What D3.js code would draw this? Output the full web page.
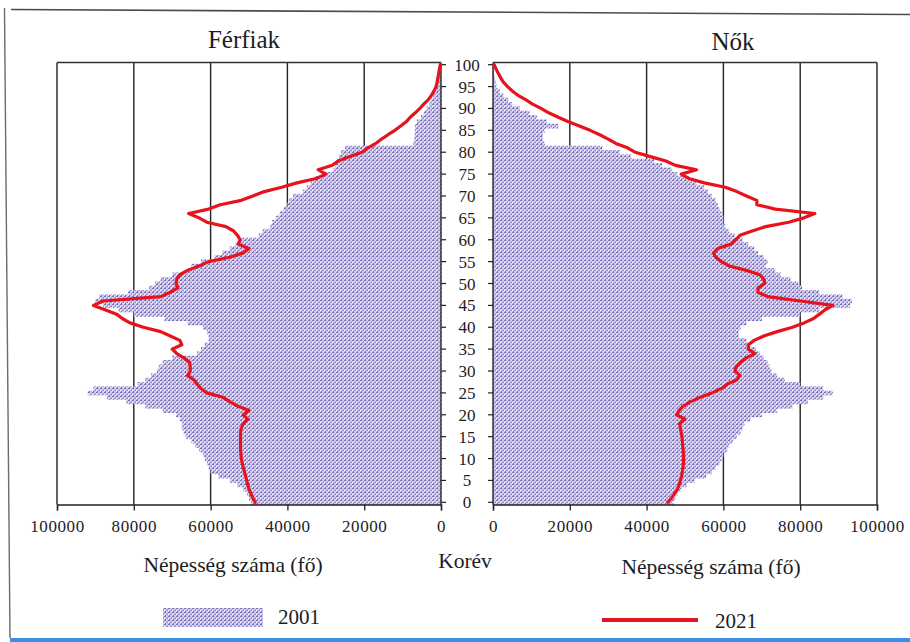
<!DOCTYPE html>
<html><head><meta charset="utf-8">
<script src="https://cdn.jsdelivr.net/npm/d3@7/dist/d3.min.js"></script>
<style>
html,body{margin:0;padding:0;background:#fff;}
svg{display:block;}
text{font-family:"Liberation Serif","DejaVu Serif",serif;fill:#1c1c24;}
</style></head>
<body>
<svg id="chart" width="910" height="642"></svg>
<script>
const ages = d3.range(0, 101);
const ageTicks = d3.range(0, 101, 5);
const valueTicks = [0, 20000, 40000, 60000, 80000, 100000];
const titleMen = "Férfiak", titleWomen = "Nők";
const axisTitle = "Népesség száma (fő)", ageTitle = "Korév";
const seriesNames = ["2001", "2021"];

const male2001 = [49500,50000,50500,51500,53000,55000,58000,60000,60500,61000,
 61500,62000,63000,64000,65000,66500,67000,67500,67500,68000,
 69000,72500,77000,82000,87000,92000,90500,79000,77000,75500,
 74000,73500,72500,70000,63500,62500,61500,60500,60500,61000,
 62000,66000,72000,80000,84000,88000,90000,89000,81500,76000,
 74500,73000,70000,66000,65000,62500,59000,57000,55000,53500,
 52000,47500,46500,44500,44000,43000,42000,41000,40000,39500,
 38500,36000,35000,34000,33000,30500,28000,27500,27000,26500,
 26000,25000,7200,7000,6900,6800,6800,6300,5200,4500,
 3800,3000,2500,2000,1400,1100,800,600,400,200,100];

const female2001 = [47000,47500,48000,49000,50500,52500,55500,57000,58000,59000,
 59500,60000,61000,61500,62500,63500,64500,65000,65500,67000,
 70000,74000,78000,82000,86000,88500,86000,80000,76000,74000,
 72500,72000,71500,70500,69500,68500,67000,66000,64000,64000,
 64500,66000,70000,80000,85000,93000,93500,91000,85000,80500,
 79500,77500,75000,73500,71000,71500,70500,69000,68000,66500,
 65000,63000,61500,60500,60000,60000,59500,59000,58500,58000,
 57000,56000,55000,53000,51000,48000,46500,44000,42000,36000,
 33000,28500,13500,13000,13000,13500,17000,14000,11500,9500,
 7000,5000,4000,2700,1800,1000,700,500,300,200,100];

const male2021 = [48400,49000,49500,50000,50300,50600,50900,51200,51500,51800,
 52000,52100,52200,52200,52200,52200,52200,52000,51500,50300,
 51500,50000,53000,55000,56800,61000,62500,63500,64400,66000,
 65300,65300,65500,67000,68800,70000,67500,68000,70500,73000,
 77500,81000,83000,84500,87500,90500,88000,73000,70500,68500,
 69000,68800,68000,66000,63000,60500,55000,51500,50000,52800,
 52300,53000,54000,56000,61000,63000,65700,60500,57500,52000,
 49000,46000,41500,37500,32500,30000,32000,28300,26800,23700,
 20600,19000,17000,15500,13800,12000,10500,9000,8000,6700,
 5500,4500,3300,2500,1800,1300,1000,800,600,400,200];

const female2021 = [45500,46500,47300,48000,48500,48800,49100,49300,49500,49600,
 49600,49600,49500,49400,49300,49200,49000,48800,48600,50000,
 47800,48500,49500,51500,54000,57000,59500,61000,63500,64300,
 63000,63300,64500,66000,68200,66500,66500,68000,70500,74000,
 78000,81000,83500,85000,86500,88500,80000,71500,69000,69000,
 70800,70500,69500,66000,61500,59500,58000,57400,58500,62000,
 63200,64300,67500,71000,77000,81000,83800,73500,68700,68700,
 66000,63500,60500,55000,51000,49000,53000,47500,45000,41000,
 37000,35000,32000,30000,27800,25300,22500,19500,17000,14500,
 12500,10300,8500,6500,5000,3800,2700,2000,1400,800,300];

const svg = d3.select("#chart");

// page frame (scan edges)
svg.append("line").attr("x1",11).attr("y1",9.5).attr("x2",910).attr("y2",14.5)
  .attr("stroke","#4a4a50").attr("stroke-width",1.6);
svg.append("line").attr("x1",4.5).attr("y1",8).attr("x2",10).attr("y2",638)
  .attr("stroke","#6a6a78").attr("stroke-width",1.4);
svg.append("rect").attr("x",10).attr("y",638).attr("width",900).attr("height",4).attr("fill","#3b8fe2");

// pattern for 2001 bars (scanned dotted texture)
const defs = svg.append("defs");
const pat = defs.append("pattern").attr("id","dots").attr("patternUnits","userSpaceOnUse")
  .attr("width",4).attr("height",4);
pat.append("rect").attr("width",4).attr("height",4).attr("fill","#d2d0ec");
pat.append("rect").attr("x",0).attr("y",0).attr("width",2).attr("height",1).attr("fill","#7070bc");
pat.append("rect").attr("x",2).attr("y",2).attr("width",2).attr("height",1).attr("fill","#a98ccb");
pat.append("rect").attr("x",1).attr("y",3).attr("width",1).attr("height",1).attr("fill","#6a6cb4");
pat.append("rect").attr("x",3).attr("y",1).attr("width",1).attr("height",1).attr("fill","#9aa0d4");
pat.append("rect").attr("x",0).attr("y",2).attr("width",1).attr("height",1).attr("fill","#eef0fa");

const yTop = 62.5, yBot = 504.5;
const y = d3.scaleBand().domain(ages).range([yBot, yTop]).paddingInner(0).paddingOuter(0);
const bw = y.bandwidth();
const xL = d3.scaleLinear().domain([0,100000]).range([441, 57]);
const xR = d3.scaleLinear().domain([0,100000]).range([493, 877]);

function panel(x, data2001, data2021, left) {
  const g = svg.append("g");
  g.selectAll("line.grid").data(valueTicks.filter(d => d > 0)).join("line")
    .attr("x1", d => x(d)).attr("x2", d => x(d))
    .attr("y1", yTop).attr("y2", yBot)
    .attr("stroke","#222").attr("stroke-width",1.4);
  g.append("line").attr("x1", x(0)).attr("x2", x(100000)).attr("y1", yTop).attr("y2", yTop)
    .attr("stroke","#333").attr("stroke-width",1.4);
  g.selectAll("rect.bar").data(ages).join("rect")
    .attr("x", a => Math.min(x(0), x(data2001[a])))
    .attr("width", a => Math.abs(x(data2001[a]) - x(0)))
    .attr("y", a => y(a)).attr("height", bw + 0.3)
    .attr("fill","url(#dots)");
  const ax = d3.axisBottom(x).tickValues(valueTicks).tickSize(6).tickPadding(9)
    .tickFormat(d => String(d));
  const ag = g.append("g").attr("transform", `translate(0,${yBot})`).call(ax);
  ag.select(".domain").attr("stroke","#222").attr("stroke-width",1.4);
  ag.selectAll(".tick line").attr("stroke","#222").attr("stroke-width",1.3);
  ag.selectAll(".tick text").attr("font-size",17).attr("letter-spacing","0.6px")
    .attr("font-family",'"Liberation Serif",serif').attr("fill","#1c1c24");
  const yAx = (left ? d3.axisRight(y) : d3.axisLeft(y)).tickValues(ageTicks).tickSize(5).tickFormat("");
  const yg = g.append("g").attr("transform", `translate(${x(0)},0)`).call(yAx);
  yg.select(".domain").attr("stroke","#222").attr("stroke-width",1.4).attr("d", `M0,${yTop}V${yBot}`);
  yg.selectAll(".tick line").attr("stroke","#222").attr("stroke-width",1.2);
  const line = d3.line().x(a => x(data2021[a])).y(a => y(a) + bw/2);
  g.append("path").datum(ages).attr("d", line)
    .attr("fill","none").attr("stroke","#e8121c").attr("stroke-width",3.2)
    .attr("stroke-linejoin","round").attr("stroke-linecap","round");
}
panel(xL, male2001, male2021, true);
panel(xR, female2001, female2021, false);

svg.append("g").selectAll("text").data(ageTicks).join("text")
  .attr("x", 467).attr("y", a => y(a) + bw/2 + 0.5)
  .attr("text-anchor","middle").attr("dominant-baseline","central")
  .attr("font-size",17).text(a => a);

svg.append("text").attr("x",244).attr("y",48).attr("text-anchor","middle").attr("font-size",25).text(titleMen);
svg.append("text").attr("x",733).attr("y",50).attr("text-anchor","middle").attr("font-size",25).text(titleWomen);
svg.append("text").attr("x",233).attr("y",572).attr("text-anchor","middle").attr("font-size",21.5).text(axisTitle);
svg.append("text").attr("x",465).attr("y",568).attr("text-anchor","middle").attr("font-size",21.5).text(ageTitle);
svg.append("text").attr("x",711).attr("y",574).attr("text-anchor","middle").attr("font-size",21.5).text(axisTitle);

svg.append("rect").attr("x",163).attr("y",608).attr("width",100).attr("height",19).attr("fill","url(#dots)");
svg.append("text").attr("x",278).attr("y",624).attr("font-size",21).text(seriesNames[0]);
svg.append("line").attr("x1",602).attr("x2",698).attr("y1",620).attr("y2",620)
  .attr("stroke","#e8121c").attr("stroke-width",4);
svg.append("text").attr("x",715).attr("y",628).attr("font-size",21).text(seriesNames[1]);
</script>
</body></html>
